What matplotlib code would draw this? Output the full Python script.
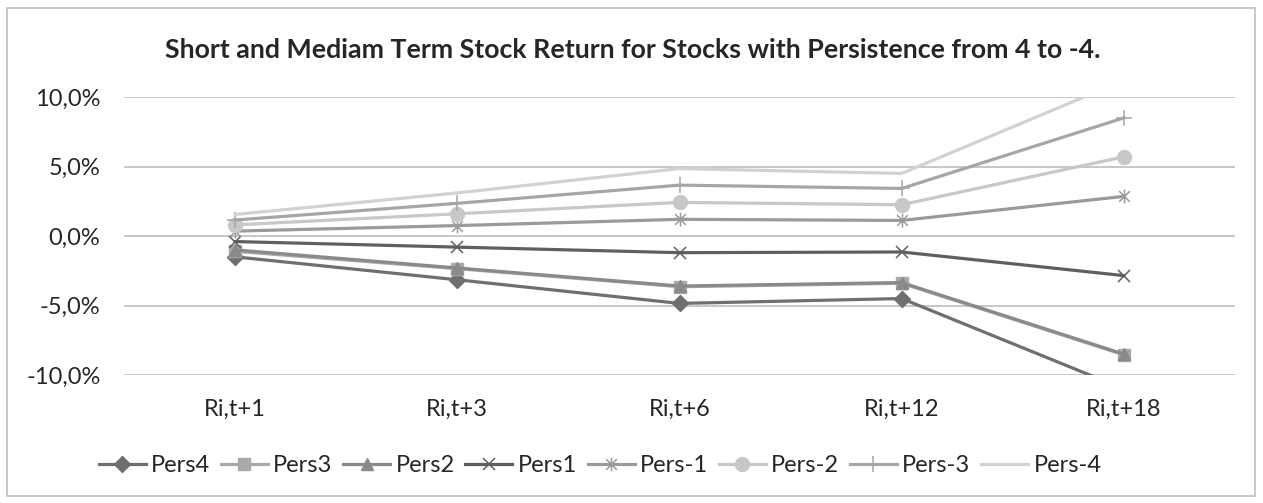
import matplotlib
matplotlib.use("Agg")
import matplotlib.pyplot as plt
from matplotlib.path import Path
from matplotlib.ticker import FuncFormatter, MultipleLocator
from matplotlib.patches import Rectangle

plt.rcParams['font.family'] = ['Lato', 'DejaVu Sans']

categories = ["Ri,t+1", "Ri,t+3", "Ri,t+6", "Ri,t+12", "Ri,t+18"]
series_names = ["Pers4", "Pers3", "Pers2", "Pers1", "Pers-1", "Pers-2", "Pers-3", "Pers-4"]

# returns in percent
pers4 = [-1.5, -3.15, -4.85, -4.5, -11.0]
pers3 = [-1.1, -2.35, -3.65, -3.4, -8.55]
pers2 = [-1.0, -2.3, -3.6, -3.35, -8.5]
pers1 = [-0.4, -0.8, -1.2, -1.15, -2.85]
pers_m1 = [0.35, 0.75, 1.2, 1.12, 2.85]
pers_m2 = [0.8, 1.6, 2.42, 2.25, 5.7]
pers_m3 = [1.15, 2.35, 3.66, 3.42, 8.5]
pers_m4 = [1.55, 3.1, 4.85, 4.5, 11.2]

values = [pers4, pers3, pers2, pers1, pers_m1, pers_m2, pers_m3, pers_m4]

star = Path([(-1, -1), (1, 1), (-1, 1), (1, -1), (0, -1.3), (0, 1.3)],
            [Path.MOVETO, Path.LINETO, Path.MOVETO, Path.LINETO, Path.MOVETO, Path.LINETO])

styles = [
    dict(color='#6f6f6f', marker='D', ms=8.5),
    dict(color='#a9a9a9', marker='s', ms=9),
    dict(color='#8a8a8a', marker='^', ms=9),
    dict(color='#5f5f5f', marker='x', ms=9, mew=1.1),
    dict(color='#9a9a9a', marker=star, ms=10, mew=1.1),
    dict(color='#c8c8c8', marker='o', ms=10),
    dict(color='#a6a6a6', marker='+', ms=11, mew=1.1),
    dict(color='#d2d2d2', marker='None', ms=0),
]

fig = plt.figure(figsize=(12.63, 5.03), dpi=100)
fig.patches.append(Rectangle((7/1263, 7/503), 1248/1263, 488/503, transform=fig.transFigure,
                             fill=False, edgecolor='#bfbfbf', lw=1.2))
ax = fig.add_axes([124/1263, 1-375/503, (1235-124)/1263, (375-97)/503])

x = list(range(len(categories)))
for name, vals, st in zip(series_names, values, styles):
    mk = st['marker']
    ax.plot(x, vals, color=st['color'], lw=2.3, marker=mk, markersize=st['ms'],
            markeredgewidth=st.get('mew', 1.0), markerfacecolor=st['color'],
            markeredgecolor=st['color'], label=name, clip_on=True, solid_joinstyle='miter')

ax.set_xlim(-0.5, len(categories) - 0.5)
ax.set_ylim(-10, 10)
ax.yaxis.set_major_locator(MultipleLocator(5))
ax.yaxis.set_major_formatter(FuncFormatter(lambda v, p: f"{v:.1f}%".replace('.', ',')))
ax.set_xticks(x)
ax.set_xticklabels(categories)
ax.grid(axis='y', color='#bdbdbd', lw=1.2)
ax.set_axisbelow(True)
for s in ax.spines.values():
    s.set_visible(False)
ax.tick_params(axis='both', length=0, labelsize=17, colors='#262626')
ax.tick_params(axis='x', pad=17)
ax.tick_params(axis='y', pad=17)

fig.text(633/1263, 1-50/503, "Short and Mediam Term Stock Return for Stocks with Persistence from 4 to -4.",
         ha='center', va='center', fontsize=19.3, fontweight='bold', color='#262626')

fig.legend(loc='center', bbox_to_anchor=(600/1263, 1-466/503), ncol=8, frameon=False,
           fontsize=17, handlelength=2.0, handletextpad=0.22, columnspacing=0.45,
           labelcolor='#262626')

fig.savefig("out.png", dpi=100)
